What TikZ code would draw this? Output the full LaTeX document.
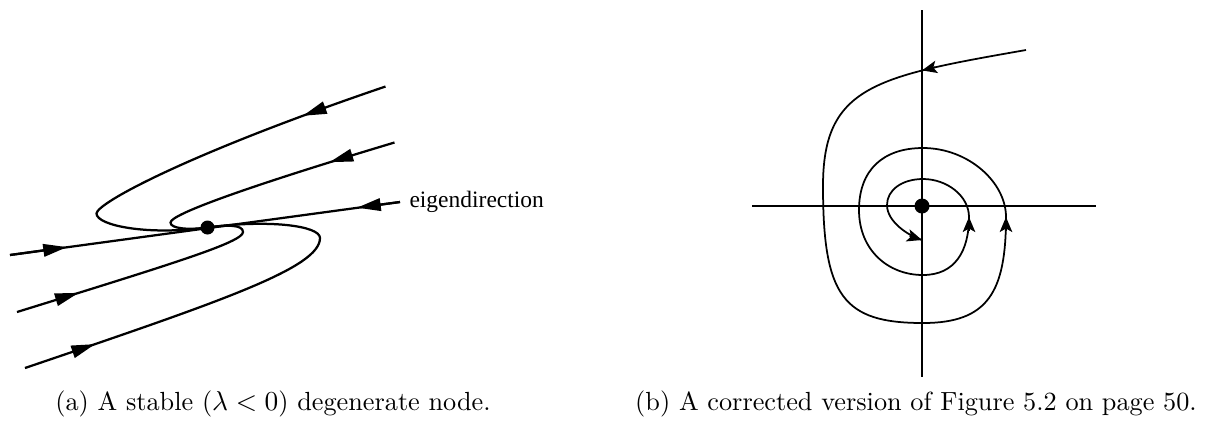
\documentclass[tikz,border=0pt]{standalone}
\usepackage{amsmath,amssymb}
\usepackage{fontspec}
\newfontfamily\labelfont{Liberation Serif}
\usepackage{tikz}
\usetikzlibrary{arrows.meta}

\begin{document}
\begin{tikzpicture}[x=0.4pt, y=-0.4pt,
  orbit/.style={line width=0.9pt, line join=round},
  flow/.style={line width=0.9pt, -{Triangle[length=9.5pt, width=5pt]}},
  swirl/.style={line width=0.7pt, line join=round},
  swirlflow/.style={line width=0.7pt, -{Stealth[length=6pt, width=5pt, inset=1.4pt]}},
  axisline/.style={line width=0.5pt},
  caption/.style={font=\fontsize{10.5}{12}\selectfont, anchor=base, inner sep=0pt}]

\useasboundingbox (0,0) rectangle (1207,423);

\coordinate (fixA) at (207.5,227.5);
\begin{scope}[shift={(fixA)}]
  \coordinate (eigW) at (-197.5,27.5);
  \coordinate (eigE) at (192.5,-25.5);
  \draw[orbit] (eigW) -- (eigE);
  \draw[flow] (eigW) -- (-140.5,19.6);
  \draw[flow] (eigE) -- (149.5,-19.8);

  \draw[orbit] (178,-141) .. controls (-22,-73) and (-111,-24) .. (-111,-14)
    .. controls (-111,-2) and (-60,8.2) .. (fixA);
  \draw[flow] (117.7,-119.9) -- (95.4,-111.7);

  \draw[orbit] (187,-85) .. controls (37,-40) and (-37,-13) .. (-37,-5)
    .. controls (-37,1) and (-20,2.7) .. (fixA);
  \draw[flow] (144.7,-72.35) -- (122,-65.3);

  \draw[orbit] (-190.5,84.5) .. controls (-30.5,34.9) and (35.5,14.5) .. (35.5,4.5)
    .. controls (35.5,-3) and (20,-2.7) .. (fixA);
  \draw[flow] (-151.45,72.2) -- (-128.8,65.3);

  \draw[orbit] (-182.5,140.5) .. controls (17.5,72.5) and (112.5,40) .. (112.5,10.5)
    .. controls (112.5,-2) and (60,-8.2) .. (fixA);
  \draw[flow] (-134.9,124.3) -- (-112.4,116.6);
\end{scope}
\fill (fixA) circle[radius=2.8pt];
\node[font=\labelfont\fontsize{9.4}{11}\selectfont, anchor=base west, inner sep=0pt]
  (eiglabel) at (409,207) {eigendirection};

\coordinate (fixB) at (922,206);
\begin{scope}[shift={(fixB)}]
  \coordinate (axN) at (0,-196);
  \coordinate (axS) at (0,171);
  \coordinate (axW) at (-170,0);
  \coordinate (axE) at (174,0);
  \draw[axisline] (axN) -- (axS);
  \draw[axisline] (axW) -- (axE);

  \draw[swirl] (104,-156) .. controls (-46,-129.75) and (-99,-120) .. (-99,-20)
    .. controls (-99,90) and (-79,117) .. (1,117)
    .. controls (66,117) and (84,86) .. (84,11)
    .. controls (84,-24) and (46,-58) .. (1,-58)
    .. controls (-39,-58) and (-63,-36) .. (-63,4)
    .. controls (-63,44) and (-34,69) .. (1,69)
    .. controls (33,69) and (47,45) .. (47,11)
    .. controls (47,-10) and (25,-27) .. (1,-27)
    .. controls (-20,-27) and (-35,-16) .. (-35,-1)
    .. controls (-35,16) and (-13,30) .. (0,34);
  \draw[swirlflow] (13.4,-138.8) -- (0,-135.6);
  \draw[swirlflow] (84,25) -- (84,11);
  \draw[swirlflow] (47,25) -- (47,11);
  \draw[swirlflow] (-12.4,30) -- (0,34);
\end{scope}
\fill (fixB) circle[radius=3pt];

\node[caption] (capA) at (273,410) {(a) A stable ($\lambda < 0$) degenerate node.};
\node[caption] (capB) at (916,410) {(b) A corrected version of Figure 5.2 on page 50.};
\end{tikzpicture}
\end{document}
